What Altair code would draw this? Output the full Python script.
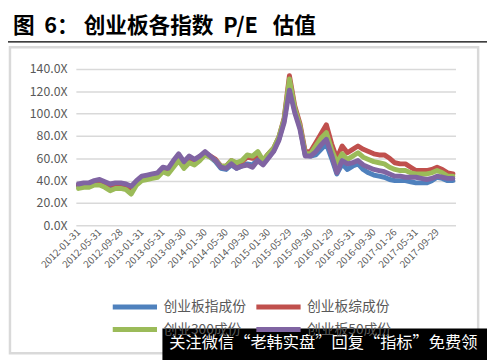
import altair as alt
import pandas as pd

NB = "\u00a0"
title_text = "图" + NB * 2 + "6：" + NB + "创业板各指数" + NB * 2 + "P/E" + NB * 3 + "估值"
watermark_text = "关注微信“老韩实盘”回复“指标”免费领"

dates = [
    "2012-01-31", "2012-02-29", "2012-03-30", "2012-04-27", "2012-05-31", "2012-06-29",
    "2012-07-31", "2012-08-31", "2012-09-28", "2012-10-31", "2012-11-30", "2012-12-31",
    "2013-01-31", "2013-02-28", "2013-03-29", "2013-04-26", "2013-05-31", "2013-06-28",
    "2013-07-31", "2013-08-30", "2013-09-30", "2013-10-31", "2013-11-29", "2013-12-31",
    "2014-01-30", "2014-02-28", "2014-03-31", "2014-04-30", "2014-05-30", "2014-06-30",
    "2014-07-31", "2014-08-29", "2014-09-30", "2014-10-31", "2014-11-28", "2014-12-31",
    "2015-01-30", "2015-02-27", "2015-03-31", "2015-04-30", "2015-05-29", "2015-06-30",
    "2015-07-31", "2015-08-31", "2015-09-30", "2015-10-30", "2015-11-30", "2015-12-31",
    "2016-01-29", "2016-02-29", "2016-03-31", "2016-04-29", "2016-05-31", "2016-06-30",
    "2016-07-29", "2016-08-31", "2016-09-30", "2016-10-31", "2016-11-30", "2016-12-30",
    "2017-01-26", "2017-02-28", "2017-03-31", "2017-04-28", "2017-05-31", "2017-06-30",
    "2017-07-31", "2017-08-31", "2017-09-29", "2017-10-31", "2017-11-30", "2017-12-29",
]

tick_labels = [
    "2012-01-31", "2012-05-31", "2012-09-28", "2013-01-31", "2013-05-31", "2013-09-30",
    "2014-01-30", "2014-05-30", "2014-09-30", "2015-01-30", "2015-05-29", "2015-09-30",
    "2016-01-29", "2016-05-31", "2016-09-30", "2017-01-26", "2017-05-31", "2017-09-29",
]

series_names = ["创业板指成份", "创业板综成份", "创业300成份", "创业板50成份"]
series_colors = ["#4F81BD", "#C0504D", "#9BBB59", "#8064A2"]

pe_cyb_zhi = [35, 36, 36, 38, 39, 37, 35, 36, 36, 35, 32, 38,
              42, 43, 44, 45, 50, 49, 55, 61, 55, 60, 57, 60,
              64, 61, 57, 51, 50, 54, 51, 53, 55, 54, 59, 55,
              61, 67, 77, 94, 126, 103, 88, 63, 62, 63, 68, 73,
              60, 46, 55, 50, 53, 55, 50, 47, 45, 44, 43, 41,
              40, 40, 40, 39, 38, 38, 38, 40, 43, 42, 40, 40]

pe_cyb_zong = [36, 37, 37, 39, 40, 38, 36, 37, 37, 36, 33, 39,
               43, 44, 45, 46, 51, 50, 56, 62, 56, 61, 58, 61,
               65, 62, 59, 53, 53, 58, 55, 57, 61, 60, 64, 58,
               64, 69, 79, 96, 134, 107, 91, 66, 66, 74, 82, 90,
               73, 60, 71, 65, 68, 71, 68, 66, 64, 63, 63, 60,
               56, 55, 55, 52, 49, 49, 49, 50, 52, 50, 47, 46]

pe_cy_300 = [33, 34, 34, 36, 36, 34, 31, 33, 33, 32, 28, 36,
             40, 41, 42, 43, 48, 46, 52, 58, 51, 56, 54, 58,
             63, 61, 58, 53, 53, 58, 56, 58, 63, 62, 66, 58,
             64, 69, 79, 95, 131, 105, 89, 64, 64, 71, 78, 83,
             68, 56, 64, 59, 62, 65, 61, 59, 57, 56, 55, 52,
             50, 49, 49, 47, 46, 46, 46, 47, 49, 47, 44, 44]

pe_cyb_50 = [37, 38, 38, 40, 41, 39, 37, 38, 38, 37, 35, 40,
             44, 45, 46, 47, 52, 51, 58, 64, 57, 62, 59, 62,
             66, 62, 58, 52, 51, 55, 51, 53, 54, 52, 58, 54,
             60, 66, 76, 92, 121, 101, 86, 62, 62, 66, 72, 77,
             63, 47, 58, 55, 56, 58, 54, 52, 50, 49, 48, 46,
             44, 44, 43, 43, 43, 42, 41, 42, 44, 43, 42, 42]

y_ticks = [0, 20, 40, 60, 80, 100, 120, 140]

rows = []
for name, vals in zip(series_names, [pe_cyb_zhi, pe_cyb_zong, pe_cy_300, pe_cyb_50]):
    for d, v in zip(dates, vals):
        rows.append({"date": d, "pe": v, "series": name})
df = pd.DataFrame(rows)
one = pd.DataFrame({"k": [0]})

FONT = "Noto Sans CJK SC"

x_enc = alt.X(
    "date:O", sort=dates,
    scale=alt.Scale(type="point", padding=0.5),
    axis=alt.Axis(values=tick_labels, labelAngle=-45, labelAlign="right", labelBaseline="middle",
                  labelFontSize=10, labelColor="#595959", labelFont=FONT, domain=False, ticks=False,
                  grid=False, labelPadding=5, labelOverlap=False, title=None),
)
y_enc = alt.Y(
    "pe:Q", scale=alt.Scale(domain=[0, 140], nice=False, zero=True),
    axis=alt.Axis(values=y_ticks, labelExpr="format(datum.value, '.1f') + 'X'", grid=True,
                  gridColor="#d9d9d9", gridWidth=1.6, domain=False, ticks=False, labelPadding=9,
                  labelFontSize=12.5, labelColor="#595959", labelFont=FONT, title=None),
)
color_enc = alt.Color(
    "series:N", scale=alt.Scale(domain=series_names, range=series_colors), title=None,
    legend=alt.Legend(orient="none", legendX=35, legendY=234, columns=2, direction="horizontal",
                      symbolType="stroke", symbolSize=2025, symbolStrokeWidth=5, clipHeight=16,
                      labelFontSize=14, labelFont=FONT, labelColor="#595959", columnPadding=8,
                      rowPadding=7, labelOffset=4, padding=0),
)

box = alt.Chart(one).mark_rect(fillOpacity=0, stroke="#d9d9d9", strokeWidth=2.5).encode(
    x=alt.value(-67), x2=alt.value(409), y=alt.value(-22), y2=alt.value(289))
rule = alt.Chart(one).mark_rule(color="black", strokeWidth=1.5).encode(
    x=alt.value(-77), x2=alt.value(418), y=alt.value(-27.5))
title = alt.Chart(one).mark_text(align="left", baseline="alphabetic", fontSize=22, fontWeight="bold",
                                 font=FONT, color="black").encode(
    x=alt.value(-64), y=alt.value(-37), text=alt.value(title_text))

lines = []
for name in series_names:
    lines.append(
        alt.Chart(df).transform_filter(alt.datum.series == name)
        .mark_line(strokeWidth=5, strokeJoin="round", strokeCap="round")
        .encode(x=x_enc, y=y_enc, color=color_enc)
    )

wm_rect = alt.Chart(one).mark_rect(color="black").encode(
    x=alt.value(88), x2=alt.value(420), y=alt.value(264), y2=alt.value(296))
wm_text = alt.Chart(one).mark_text(align="left", baseline="middle", fontSize=16.5, font=FONT,
                                   color="white").encode(
    x=alt.value(95), y=alt.value(279), text=alt.value(watermark_text))

chart = alt.layer(box, rule, title, *lines, wm_rect, wm_text).properties(
    width=386, height=159,
    padding={"left": 69, "top": 59, "right": 32, "bottom": 134},
    autosize=alt.AutoSizeParams(type="none"),
    background="white",
).configure_view(strokeWidth=0)

chart.save("out.html", embed_options={"renderer": "svg", "actions": False})
